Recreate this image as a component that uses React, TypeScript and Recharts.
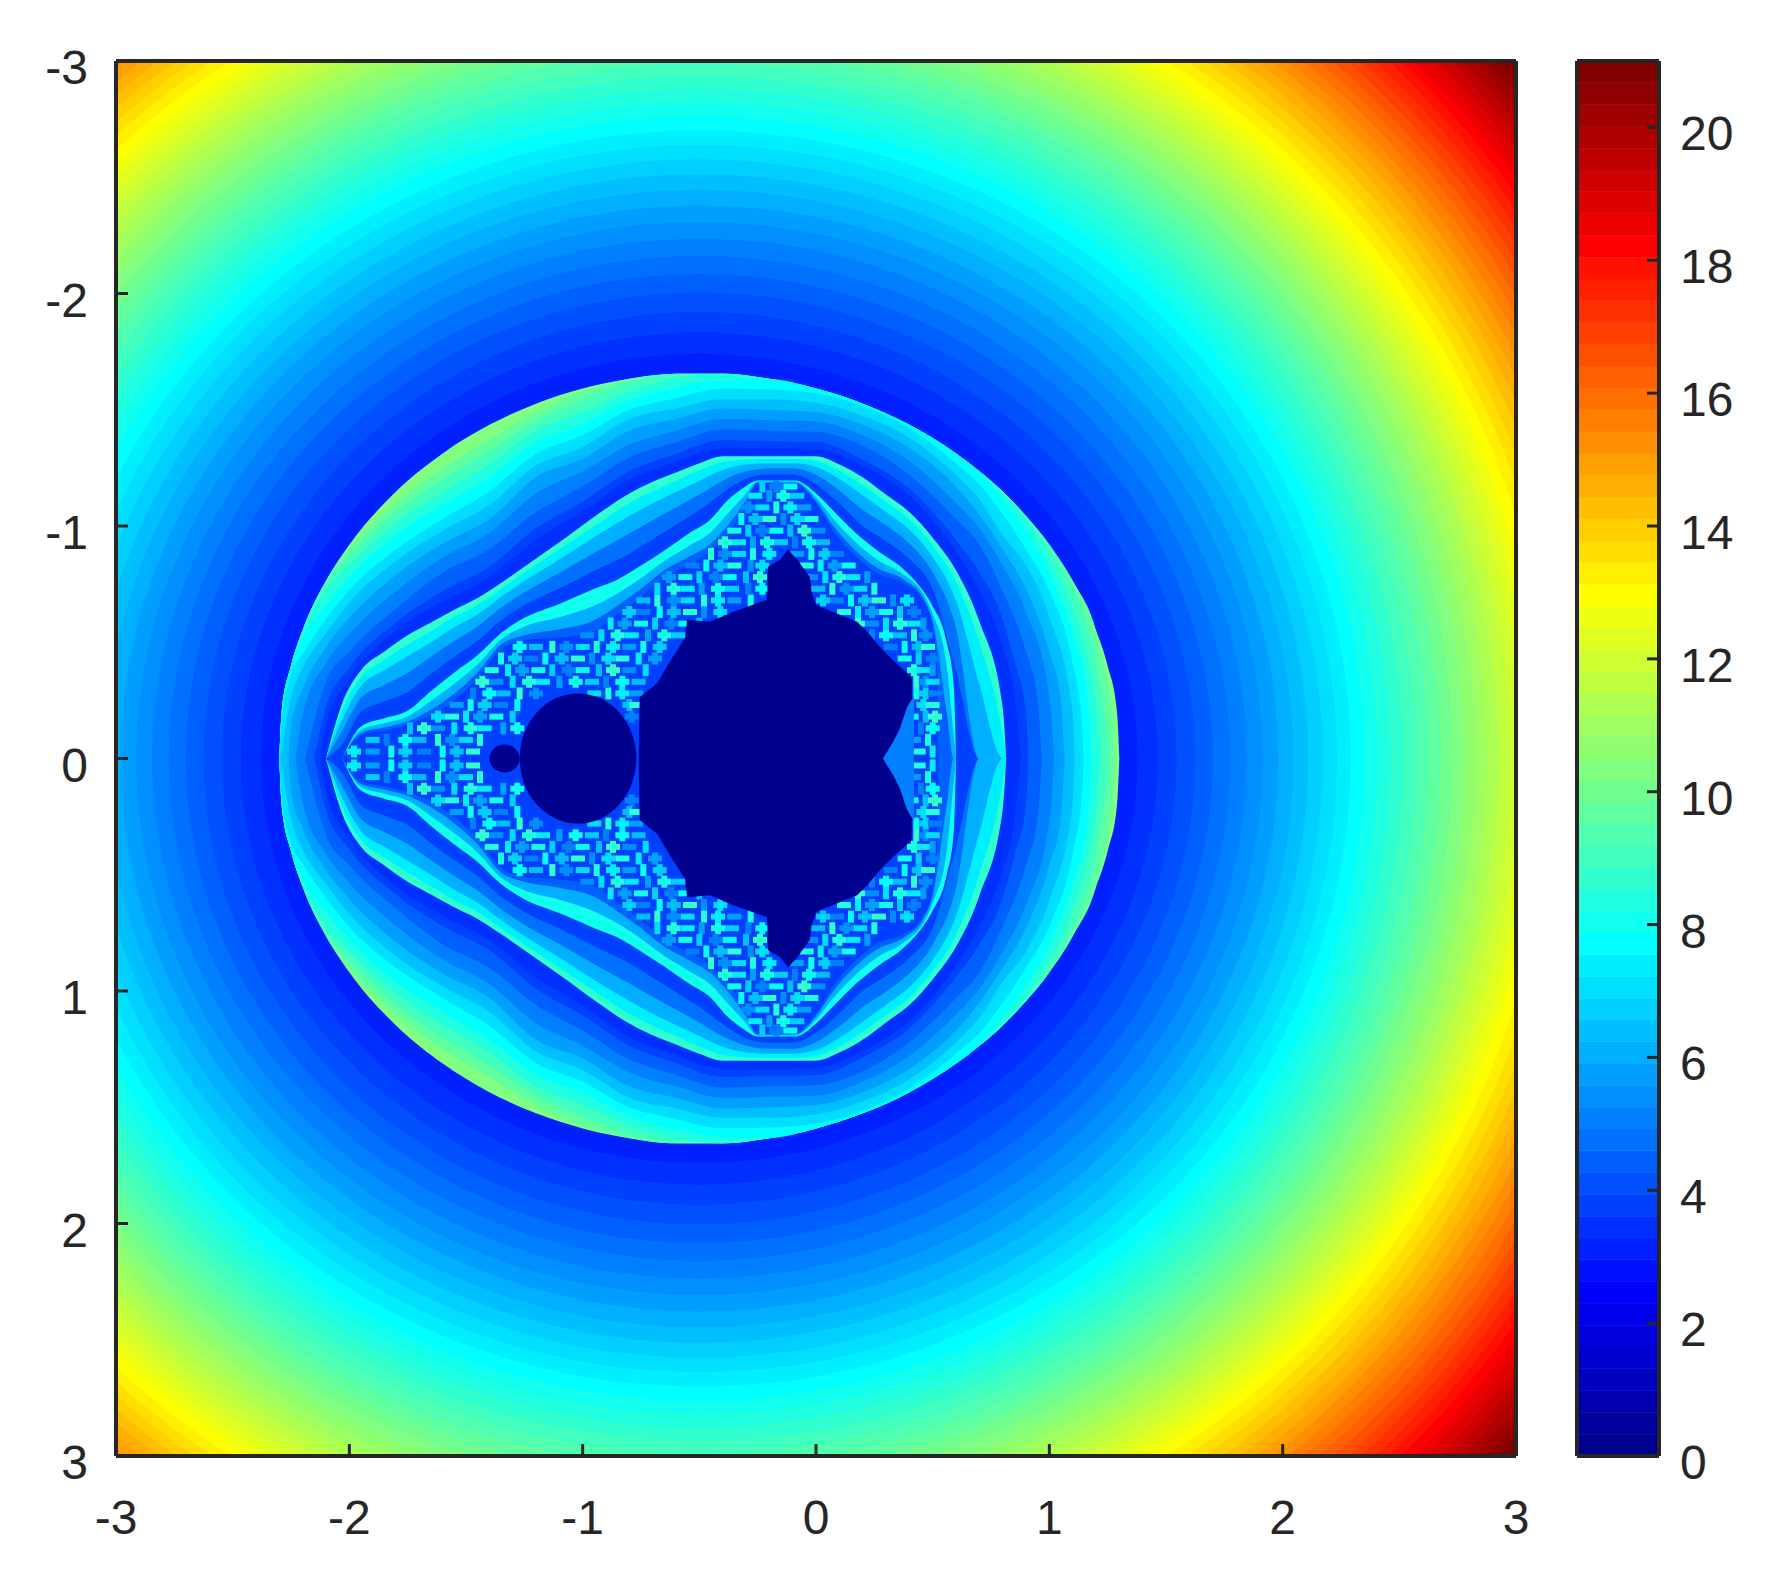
import React from "react";
import { Area, Bar, BarChart, ComposedChart, Scatter, XAxis, YAxis } from "recharts";

const JET = [
  "#00008f","#00009f","#0000af","#0000bf","#0000cf","#0000df","#0000ef","#0000ff",
  "#0010ff","#0020ff","#0030ff","#0040ff","#0050ff","#0060ff","#0070ff","#0080ff",
  "#008fff","#009fff","#00afff","#00bfff","#00cfff","#00dfff","#00efff","#00ffff",
  "#10ffef","#20ffdf","#30ffcf","#40ffbf","#50ffaf","#60ff9f","#70ff8f","#80ff80",
  "#8fff70","#9fff60","#afff50","#bfff40","#cfff30","#dfff20","#efff10","#ffff00",
  "#ffef00","#ffdf00","#ffcf00","#ffbf00","#ffaf00","#ff9f00","#ff8f00","#ff8000",
  "#ff7000","#ff6000","#ff5000","#ff4000","#ff3000","#ff2000","#ff1000","#ff0000",
  "#ef0000","#df0000","#cf0000","#bf0000","#af0000","#9f0000","#8f0000","#800000",
];

const xTicks = [-3, -2, -1, 0, 1, 2, 3];
const yTicks = [-3, -2, -1, 0, 1, 2, 3];
const barTicks = [0, 2, 4, 6, 8, 10, 12, 14, 16, 18, 20];
const BAR_MAX = 21;

// outer field: nested rings around (-0.5, 0), largest first, colour index = ringLevels
const ringLevels = [63,62,61,60,59,58,57,56,55,54,53,52,51,50,49,48,47,46,45,44,43,42,41,40,39,38,37,36,35,34,33,32,31,30,29,28,27,26,25,24,23,22,21,20,19,18,17,16,15,14,13,12,11,10,9];
const ringRx = [5.2,4.574,4.538,4.502,4.465,4.428,4.391,4.354,4.316,4.278,4.239,4.2,4.161,4.121,4.081,4.041,4,3.959,3.917,3.875,3.832,3.789,3.746,3.702,3.657,3.612,3.566,3.52,3.473,3.426,3.377,3.328,3.279,3.228,3.177,3.125,3.072,3.018,2.963,2.907,2.85,2.792,2.733,2.672,2.61,2.546,2.481,2.414,2.345,2.274,2.201,2.125,2.046,1.965,1.879];
const ringRy = [5.2,4.519,4.483,4.446,4.409,4.371,4.334,4.296,4.257,4.219,4.18,4.14,4.1,4.06,4.019,3.978,3.937,3.895,3.853,3.81,3.767,3.723,3.678,3.634,3.588,3.542,3.496,3.448,3.4,3.352,3.302,3.252,3.202,3.15,3.097,3.044,2.99,2.934,2.878,2.82,2.761,2.701,2.64,2.577,2.513,2.446,2.378,2.308,2.236,2.161,2.084,2.004,1.92,1.833,1.741];

// first shell: each colour band has its own left tip, a shared middle and its own right tip
const shell1MidX = [-2,-1.8,-1.6,-1.4,-1.2,-1,-0.8,-0.6,-0.4,-0.2,0,0.2,0.4,0.6,0.7,0.8];
const shell1Levels = [31,29,27,25,23,21,19,17,15,13,11,10];
const shell1HeadX = [
  [-2.3,-2.29,-2.25,-2.2,-2.1],[-2.3,-2.29,-2.25,-2.2,-2.1],[-2.3,-2.29,-2.25,-2.2,-2.1],[-2.3,-2.29,-2.25,-2.2,-2.1],
  [-2.3,-2.29,-2.25,-2.2,-2.1],[-2.3,-2.29,-2.25,-2.2,-2.1],[-2.295,-2.25,-2.2,-2.1],[-2.26,-2.25,-2.2,-2.1],
  [-2.23,-2.2,-2.1],[-2.19,-2.1],[-2.15,-2.1],[-2.125,-2.1],
];
const shell1HeadH = [
  [0,0.2,0.398,0.552,0.764],[0,0.2,0.398,0.552,0.764],[0,0.2,0.398,0.552,0.76],[0,0.2,0.398,0.552,0.72],
  [0,0.2,0.398,0.52,0.66],[0,0.15,0.36,0.45,0.6],[0,0.26,0.39,0.54],[0,0.14,0.3,0.48],
  [0,0.19,0.41],[0,0.33],[0,0.22],[0,0.15],
];
const shell1MidH = [
  [0.919,1.148,1.312,1.435,1.526,1.591,1.633,1.655,1.655,1.633,1.591,1.526,1.435,1.312,1.236,1.148],
  [0.905,1.1,1.25,1.37,1.49,1.58,1.633,1.655,1.655,1.633,1.591,1.526,1.435,1.312,1.236,1.148],
  [0.87,1.06,1.2,1.32,1.45,1.54,1.62,1.655,1.655,1.633,1.591,1.526,1.435,1.312,1.236,1.148],
  [0.83,1.01,1.145,1.265,1.41,1.49,1.58,1.635,1.655,1.633,1.591,1.526,1.435,1.312,1.236,1.148],
  [0.78,0.96,1.09,1.21,1.36,1.44,1.54,1.595,1.63,1.632,1.591,1.526,1.435,1.312,1.233,1.11],
  [0.725,0.9,1.03,1.15,1.31,1.39,1.5,1.55,1.59,1.587,1.571,1.515,1.42,1.27,1.18,1.05],
  [0.67,0.85,0.98,1.09,1.26,1.34,1.46,1.505,1.545,1.545,1.53,1.475,1.38,1.22,1.115,0.96],
  [0.605,0.79,0.925,1.03,1.21,1.29,1.41,1.46,1.505,1.5,1.49,1.435,1.335,1.17,1.05,0.9],
  [0.535,0.72,0.865,0.97,1.14,1.235,1.35,1.41,1.46,1.455,1.45,1.39,1.28,1.1,0.99,0.83],
  [0.46,0.645,0.8,0.9,1.06,1.17,1.295,1.36,1.415,1.41,1.405,1.345,1.22,1.03,0.92,0.72],
  [0.39,0.585,0.72,0.825,0.99,1.105,1.235,1.31,1.37,1.365,1.362,1.285,1.16,0.94,0.8,0.6],
  [0.34,0.55,0.675,0.78,0.94,1.065,1.2,1.275,1.335,1.335,1.33,1.26,1.13,0.89,0.72,0.48],
];
const shell1TailX = [
  [0.9,1,1.1,1.2,1.25,1.29,1.3],[0.9,1,1.1,1.2,1.25,1.27,1.282],[0.9,1,1.1,1.2,1.23,1.25,1.252],[0.9,1,1.1,1.18,1.21,1.219],
  [0.9,1,1.1,1.16,1.185],[0.9,1,1.1,1.14,1.147],[0.9,1,1.1,1.108],[0.9,1,1.05,1.066],
  [0.9,1,1.015,1.02],[0.9,0.95,0.968],[0.85,0.9,0.91],[0.85,0.878],
];
const shell1TailH = [
  [1.043,0.919,0.764,0.552,0.398,0.2,0],[1.043,0.919,0.764,0.55,0.33,0.18,0],[1.043,0.919,0.74,0.42,0.23,0.06,0],[1.03,0.87,0.65,0.35,0.14,0],
  [0.98,0.8,0.54,0.3,0],[0.9,0.72,0.41,0.15,0],[0.83,0.61,0.2,0],[0.73,0.46,0.25,0],
  [0.63,0.27,0.1,0],[0.46,0.25,0],[0.42,0.2,0],[0.27,0],
];

// second shell
const shell2X = [-2.1,-2.03,-1.95,-1.85,-1.75,-1.65,-1.55,-1.45,-1.35,-1.25,-1.1,-0.95,-0.8,-0.7,-0.6,-0.5,-0.4,-0.3,-0.2,-0.1,0,0.1,0.2,0.3,0.4,0.5,0.6,0.7,0.8,0.815];
const shell2Levels = [26,22,18,14,11];
const shell2Heights = [
  [0,0.24,0.38,0.46,0.53,0.585,0.64,0.69,0.755,0.825,0.93,1.04,1.14,1.19,1.23,1.27,1.3,1.3,1.3,1.3,1.3,1.265,1.21,1.135,1.06,0.95,0.81,0.59,0.22,0],
  [0,0.21,0.35,0.425,0.49,0.55,0.61,0.66,0.73,0.8,0.9,1,1.1,1.15,1.195,1.24,1.275,1.285,1.288,1.288,1.28,1.238,1.176,1.103,1.028,0.915,0.76,0.5,0.1,0],
  [0,0.17,0.312,0.38,0.44,0.5,0.564,0.62,0.695,0.763,0.856,0.953,1.043,1.098,1.146,1.194,1.241,1.264,1.27,1.27,1.255,1.202,1.132,1.06,0.984,0.867,0.68,0.32,0,0],
  [0,0.12,0.26,0.316,0.368,0.438,0.505,0.568,0.648,0.715,0.798,0.885,0.968,1.025,1.08,1.135,1.195,1.235,1.248,1.248,1.22,1.153,1.07,1.003,0.925,0.8,0.56,0,0,0],
  [0,0.06,0.2,0.245,0.286,0.364,0.438,0.506,0.594,0.66,0.731,0.808,0.881,0.943,1.005,1.068,1.143,1.203,1.222,1.222,1.18,1.096,1,0.936,0.858,0.729,0.38,0,0,0],
];

// third shell
const shell3X = [-2.03,-1.95,-1.85,-1.75,-1.65,-1.55,-1.45,-1.35,-1.25,-1.1,-0.95,-0.85,-0.75,-0.65,-0.55,-0.45,-0.38,-0.31,-0.25,-0.09,0,0.07,0.17,0.26,0.38,0.46,0.5,0.56,0.59,0.6];
const shell3Levels = [24,18,13];
const shell3Heights = [
  [0,0.138,0.173,0.205,0.29,0.37,0.445,0.54,0.605,0.665,0.73,0.77,0.83,0.895,0.965,1.03,1.11,1.165,1.196,1.196,1.14,1.07,0.97,0.897,0.81,0.72,0.655,0.5,0.32,0],
  [0,0.123,0.152,0.181,0.248,0.322,0.405,0.512,0.567,0.607,0.658,0.71,0.775,0.849,0.911,0.974,1.052,1.127,1.191,1.191,1.123,1.035,0.93,0.857,0.788,0.707,0.621,0.4,0.1,0],
  [0,0.11,0.133,0.16,0.21,0.28,0.37,0.49,0.53,0.556,0.595,0.658,0.73,0.81,0.864,0.925,1,1.094,1.187,1.187,1.109,1.005,0.894,0.822,0.768,0.69,0.59,0.2,0,0],
];

// busy zone between the shells and the dark set
const busyX = [-2.03,-1.95,-1.85,-1.75,-1.65,-1.55,-1.45,-1.35,-1.25,-1.1,-0.95,-0.85,-0.75,-0.65,-0.55,-0.45,-0.38,-0.31,-0.25,-0.09,0,0.07,0.17,0.26,0.38,0.46,0.5,0.52,0.525];
const busyHeights = [0,0.1,0.12,0.145,0.185,0.25,0.345,0.47,0.51,0.52,0.55,0.62,0.695,0.78,0.83,0.89,0.965,1.07,1.184,1.184,1.098,0.983,0.869,0.797,0.754,0.68,0.57,0.38,0];
const BUSY_LEVEL = 11;

const speckHeights = [0.03,0.08,0.13,0.18,0.23,0.28,0.33,0.38,0.43,0.48,0.53,0.58,0.63,0.68,0.73,0.78,0.83,0.88,0.93,0.98,1.03,1.08,1.13,1.17];
const speckXs = [
  [-1.98,-1.9,-1.82,-1.76,-1.68,-1.6,-1.54,-1.47,0.31,0.37,0.44,0.5],
  [-1.9,-1.84,-1.76,-1.7,-1.62,-1.56,-1.5,-1.44,0.36,0.42,0.48],
  [-1.74,-1.68,-1.62,-1.55,-1.48,-1.42,-1.34,-1.28,0.39,0.45,0.5],
  [-1.62,-1.56,-1.5,-1.44,-1.37,-1.3,-0.79,0.41,0.47,0.51],
  [-1.54,-1.48,-1.42,-1.35,-1.28,-0.8,-0.77,0.4,0.46,0.5],
  [-1.47,-1.4,-1.34,-1.27,-1.2,-0.95,-0.89,-0.83,-0.77,0.43,0.47,0.51],
  [-1.43,-1.37,-1.3,-1.23,-1.17,-1.1,-1.03,-0.96,-0.9,-0.83,-0.76,0.43,0.47,0.5],
  [-1.39,-1.32,-1.26,-1.19,-1.13,-1.06,-1,-0.93,-0.87,-0.8,-0.73,0.42,0.46,0.5],
  [-1.35,-1.29,-1.22,-1.16,-1.09,-1.02,-0.96,-0.89,-0.83,-0.76,-0.69,0.38,0.44,0.5],
  [-1.27,-1.2,-1.13,-1.07,-1,-0.94,-0.87,-0.8,-0.74,-0.67,0.32,0.38,0.44,0.48],
  [-0.98,-0.92,-0.85,-0.79,-0.72,-0.65,-0.59,0.24,0.3,0.36,0.42,0.47],
  [-0.88,-0.82,-0.75,-0.69,-0.62,-0.56,-0.5,0.18,0.24,0.3,0.36,0.42,0.46],
  [-0.8,-0.74,-0.67,-0.61,-0.54,-0.48,-0.41,0.12,0.18,0.24,0.3,0.36,0.42],
  [-0.74,-0.68,-0.61,-0.55,-0.48,-0.42,-0.35,-0.28,0.03,0.09,0.15,0.21,0.27,0.33,0.39],
  [-0.68,-0.61,-0.55,-0.49,-0.42,-0.36,-0.29,-0.23,0.01,0.07,0.13,0.19,0.25],
  [-0.63,-0.56,-0.5,-0.43,-0.37,-0.3,-0.24,-0.02,0.04,0.1,0.16,0.22],
  [-0.53,-0.47,-0.41,-0.35,-0.28,-0.23,-0.04,0.02,0.08,0.14],
  [-0.45,-0.39,-0.33,-0.27,-0.2,-0.08,-0.02,0.04,0.09],
  [-0.39,-0.33,-0.27,-0.21,-0.15,-0.09,-0.03,0.03],
  [-0.35,-0.29,-0.23,-0.17,-0.11,-0.05,0.01],
  [-0.32,-0.26,-0.2,-0.14,-0.08,-0.02],
  [-0.29,-0.23,-0.17,-0.11,-0.05],
  [-0.26,-0.2,-0.14,-0.08],
  [-0.23,-0.17,-0.11],
];
const speckLevels = [22,17,24,20,15,23,19,26,16,21,25];
const SPECK_KINDS = 3;

// the set itself, with the notch on its right side
const setX = [-0.76,-0.757,-0.755,-0.68,-0.626,-0.56,-0.553,-0.454,-0.356,-0.21,-0.205,-0.154,-0.12,-0.08,-0.026,-0.02,0,0.073,0.176,0.23,0.274,0.33,0.41,0.415];
const setH = [0,0.2,0.265,0.325,0.417,0.52,0.597,0.588,0.63,0.683,0.825,0.855,0.898,0.855,0.78,0.72,0.66,0.63,0.588,0.533,0.48,0.424,0.35,0];
const cuspX = [0.287,0.33,0.36,0.39,0.42];
const cuspH = [0,0.07,0.13,0.22,0.27];
const CUSP_LEVEL = 15;
const discX = [-1.02, -1.335];
const discRx = [0.25, 0.065];
const discRy = [0.28, 0.06];
const SET_LEVEL = 0;

const PX_X = 1400 / 6;
const PX_Y = 1395 / 6;
const AXIS = "#262626";
const FONT = "'Liberation Sans', Arial, sans-serif";

const ringData = ringLevels.map((level, i) => ({ x: -0.5, y: 0, level, rx: ringRx[i], ry: ringRy[i] }));
const discData = discX.map((x, i) => ({ x, y: 0, level: SET_LEVEL, rx: discRx[i], ry: discRy[i] }));
const speckData = speckHeights.flatMap((h, row) =>
  speckXs[row].flatMap((x, i) => {
    const level = speckLevels[(row * 3 + i) % speckLevels.length];
    const kind = (row + i) % SPECK_KINDS;
    return [
      { x, y: h, level, kind },
      { x, y: -h, level, kind },
    ];
  }),
);

const toBand = (xs: number[], hs: number[]) => xs.map((x, i) => ({ x, h: hs[i] }));
const bands = [
  ...shell1Levels.map((level, i) => ({
    level,
    points: toBand(
      [...shell1HeadX[i], ...shell1MidX, ...shell1TailX[i]],
      [...shell1HeadH[i], ...shell1MidH[i], ...shell1TailH[i]],
    ),
  })),
  ...shell2Levels.map((level, i) => ({ level, points: toBand(shell2X, shell2Heights[i]) })),
  ...shell3Levels.map((level, i) => ({ level, points: toBand(shell3X, shell3Heights[i]) })),
  { level: BUSY_LEVEL, points: toBand(busyX, busyHeights) },
];
const topBands = [
  { level: SET_LEVEL, points: toBand(setX, setH) },
  { level: CUSP_LEVEL, points: toBand(cuspX, cuspH) },
];
const bandRange = (d: { h: number }) => [-d.h, d.h];

const barRow = [{ name: "bar", ...Object.fromEntries(JET.map((_, i) => [`c${i}`, BAR_MAX / 64])) }];

const Blob = (p: any) => (
  <ellipse cx={p.cx} cy={p.cy} rx={p.payload.rx * PX_X} ry={p.payload.ry * PX_Y} fill={JET[p.payload.level]} />
);
// small net-like filaments of the busy zone: a cross, a dash or a stem
const Speck = (p: any) => {
  const fill = JET[p.payload.level];
  const kind = p.payload.kind;
  return (
    <g fill={fill}>
      {kind !== 2 && <rect x={p.cx - 7} y={p.cy - 3} width={14} height={6} />}
      {kind !== 1 && <rect x={p.cx - 3} y={p.cy - 6} width={6} height={12} />}
    </g>
  );
};

const tickFont = { fill: AXIS, fontSize: 48, fontFamily: FONT };
const axisLine = { stroke: AXIS, strokeWidth: 4 };
const tickLine = { stroke: AXIS, strokeWidth: 3 };
const layer = { position: "absolute", left: 0, top: 0 } as const;

export default function App() {
  return (
    <div style={{ position: "absolute", left: 0, top: 0, width: 1768, height: 1590, background: "#fff" }}>
      <div style={layer}>
        <ComposedChart width={1768} height={1590} margin={{ top: 61, right: 252, bottom: 134, left: 116 }}>
          <XAxis hide dataKey="x" type="number" domain={[-3, 3]} allowDataOverflow />
          <YAxis hide dataKey="y" type="number" reversed domain={[-3, 3]} allowDataOverflow />
          <Scatter data={ringData} shape={Blob} zIndex={50} isAnimationActive={false} />
          {bands.map((b, i) => (
            <Area
              key={i}
              data={b.points}
              dataKey={bandRange}
              type="monotoneX"
              stroke="none"
              fill={JET[b.level]}
              fillOpacity={1}
              dot={false}
              activeDot={false}
              isAnimationActive={false}
            />
          ))}
          <Scatter data={speckData} shape={Speck} zIndex={600} isAnimationActive={false} />
          {topBands.map((b, i) => (
            <Area
              key={i}
              data={b.points}
              dataKey={bandRange}
              type="linear"
              stroke="none"
              fill={JET[b.level]}
              fillOpacity={1}
              dot={false}
              activeDot={false}
              zIndex={700}
              isAnimationActive={false}
            />
          ))}
          <Scatter data={discData} shape={Blob} zIndex={800} isAnimationActive={false} />
        </ComposedChart>
      </div>
      {/* axes live in their own layer: they have to sit on top of the image */}
      <div style={layer}>
        <ComposedChart width={1768} height={1590} margin={{ top: 60, right: 251, bottom: 74, left: 16 }}>
          <XAxis
            dataKey="x" type="number" domain={[-3, 3]} ticks={xTicks} interval={0} allowDataOverflow
            height={60} axisLine={axisLine} tickLine={tickLine} tickSize={-12} tickMargin={56} tick={tickFont}
          />
          <XAxis
            xAxisId="top" orientation="top" dataKey="x" type="number" domain={[-3, 3]} ticks={xTicks} interval={0} allowDataOverflow
            height={1} axisLine={axisLine} tickLine={tickLine} tickSize={-12} tick={false}
          />
          <YAxis
            dataKey="y" type="number" reversed domain={[-3, 3]} ticks={yTicks} interval={0} allowDataOverflow
            width={100} axisLine={axisLine} tickLine={tickLine} tickSize={-12} tickMargin={40} tick={{ ...tickFont, dy: 6 }}
          />
          <YAxis
            yAxisId="right" orientation="right" dataKey="y" type="number" reversed domain={[-3, 3]} ticks={yTicks} interval={0} allowDataOverflow
            width={1} axisLine={axisLine} tickLine={tickLine} tickSize={-12} tick={false}
          />
        </ComposedChart>
      </div>
      <div style={{ position: "absolute", left: 1560, top: 0 }}>
        <BarChart width={208} height={1590} data={barRow} margin={{ top: 61, right: 109, bottom: 134, left: 17 }} barCategoryGap={0} barGap={0}>
          <XAxis hide dataKey="name" />
          <YAxis hide type="number" domain={[0, BAR_MAX]} allowDataOverflow />
          {JET.map((color, i) => (
            <Bar key={i} dataKey={`c${i}`} stackId="bar" fill={color} stroke={color} strokeWidth={0.6} isAnimationActive={false} />
          ))}
        </BarChart>
      </div>
      <div style={{ position: "absolute", left: 1560, top: 0 }}>
        <ComposedChart width={208} height={1590} margin={{ top: 60, right: 9, bottom: 133, left: 16 }}>
          <XAxis dataKey="x" type="number" domain={[0, 1]} allowDataOverflow height={1} axisLine={axisLine} tickLine={false} tick={false} />
          <XAxis xAxisId="top" orientation="top" dataKey="x" type="number" domain={[0, 1]} allowDataOverflow height={1} axisLine={axisLine} tickLine={false} tick={false} />
          <YAxis yAxisId="left" dataKey="y" width={1} type="number" domain={[0, BAR_MAX]} allowDataOverflow axisLine={axisLine} tickLine={false} tick={false} />
          <YAxis
            orientation="right" dataKey="y" width={100} type="number" domain={[0, BAR_MAX]} ticks={barTicks} interval={0} allowDataOverflow
            axisLine={axisLine} tickLine={tickLine} tickSize={-12} tickMargin={33} tick={{ ...tickFont, dy: 6 }}
          />
        </ComposedChart>
      </div>
    </div>
  );
}
